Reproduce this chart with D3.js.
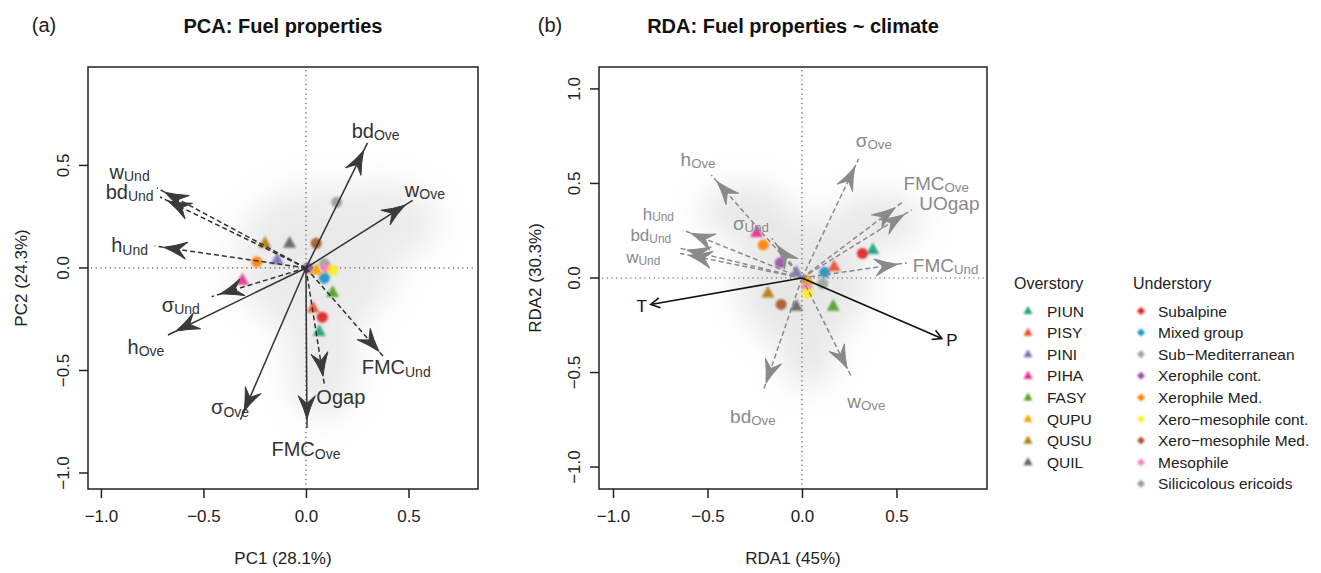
<!DOCTYPE html>
<html><head><meta charset="utf-8">
<script src="https://cdn.jsdelivr.net/npm/d3@7"></script>
<style>
body{margin:0;background:#fff;}
text{font-family:"Liberation Sans",Arial,Helvetica,sans-serif;}
</style></head>
<body><svg id="chart" width="1321" height="573"></svg>
<script>
// ---------------- DATA ----------------
const overstory = ["PIUN","PISY","PINI","PIHA","FASY","QUPU","QUSU","QUIL"];
const overColors = ["#1b9e77","#e8502a","#7f6bb8","#e7298a","#4f9e22","#f0a500","#b07a10","#5e5e66"];
const understory = ["Subalpine","Mixed group","Sub\u2212Mediterranean","Xerophile cont.","Xerophile Med.","Xero\u2212mesophile cont.","Xero\u2212mesophile Med.","Mesophile","Silicicolous ericoids"];
const underColors = ["#e41a1c","#1f8fc8","#9aa39a","#984ea3","#ff7f00","#ffee22","#a65628","#f781bf","#999999"];

const ticksA_x = [-1.0,-0.5,0.0,0.5];
const ticksA_y = [-1.0,-0.5,0.0,0.5];
const ticksB_x = [-1.0,-0.5,0.0,0.5];
const ticksB_y = [-1.0,-0.5,0.0,0.5,1.0];

// PCA loadings
const pcaVars = ["w","bd","h","\u03c3","FMC","Ogap","bd","w","h","\u03c3","FMC"];
const pcaSubs = ["Und","Und","Und","Und","Und","","Ove","Ove","Ove","Ove","Ove"];
const pcaX = [-0.727,-0.712,-0.737,-0.46,0.385,0.09,0.30,0.52,-0.673,-0.32,0.005];
const pcaY = [0.39,0.346,0.107,-0.14,-0.44,-0.57,0.61,0.33,-0.327,-0.74,-0.78];
const pcaDashed = [1,1,1,1,1,1,0,0,0,0,0];
const pcaLabX = [-0.86,-0.86,-0.86,-0.61,0.44,0.17,0.34,0.58,-0.78,-0.37,0.0];
const pcaLabY = [0.47,0.37,0.11,-0.18,-0.485,-0.63,0.67,0.38,-0.385,-0.68,-0.885];

// PCA centroids
const pcaOverGroup = ["QUSU","QUIL","PINI","PIHA","QUPU","FASY","PISY","PIUN"];
const pcaOverX = [-0.20,-0.08,-0.14,-0.31,0.05,0.13,0.035,0.065];
const pcaOverY = [0.12,0.12,0.04,-0.06,-0.01,-0.12,-0.195,-0.31];
const pcaUnderGroup = ["Xero\u2212mesophile Med.","Xerophile Med.","Sub\u2212Mediterranean","Mesophile","Xero\u2212mesophile cont.","Mixed group","Subalpine","Silicicolous ericoids","Xerophile cont."];
const pcaUnderX = [0.05,-0.24,0.09,0.10,0.13,0.09,0.08,0.15,0.01];
const pcaUnderY = [0.12,0.03,0.02,0.0,-0.01,-0.05,-0.24,0.32,0.0];

// RDA response loadings
const rdaVars = ["\u03c3","h","\u03c3","h","bd","w","FMC","UOgap","FMC","bd","w"];
const rdaSubs = ["Ove","Ove","Und","Und","Und","Und","Ove","","Und","Ove","Ove"];
const rdaX = [0.30,-0.48,-0.16,-0.63,-0.656,-0.645,0.53,0.58,0.555,-0.206,0.26];
const rdaY = [0.63,0.545,0.21,0.254,0.16,0.13,0.40,0.36,0.08,-0.60,-0.52];
const rdaLabX = [0.38,-0.55,-0.27,-0.76,-0.80,-0.84,0.71,0.78,0.76,-0.26,0.34];
const rdaLabY = [0.73,0.63,0.29,0.34,0.225,0.11,0.505,0.395,0.07,-0.73,-0.65];
// climate vectors
const climVars = ["T","P"];
const climX = [-0.80,0.74];
const climY = [-0.14,-0.32];
// RDA centroids
const rdaOverGroup = ["PIHA","PINI","PISY","PIUN","QUPU","QUSU","QUIL","FASY"];
const rdaOverX = [-0.24,-0.03,0.17,0.375,0.03,-0.18,-0.03,0.165];
const rdaOverY = [0.24,0.03,0.06,0.15,-0.01,-0.08,-0.15,-0.15];
const rdaUnderGroup = ["Xerophile Med.","Xerophile cont.","Mixed group","Subalpine","Mesophile","Xero\u2212mesophile cont.","Sub\u2212Mediterranean","Xero\u2212mesophile Med."];
const rdaUnderX = [-0.205,-0.115,0.12,0.32,0.025,0.03,0.11,-0.11];
const rdaUnderY = [0.175,0.08,0.03,0.13,-0.045,-0.08,-0.03,-0.14];

// ---------------- DRAW ----------------
const svg = d3.select("#chart");
svg.append("rect").attr("width",1321).attr("height",573).attr("fill","#fff");
const defs = svg.append("defs");
defs.append("filter").attr("id","blur").attr("x","-50%").attr("y","-50%").attr("width","200%").attr("height","200%")
  .append("feGaussianBlur").attr("stdDeviation",16);
defs.append("filter").attr("id","blur2").attr("x","-50%").attr("y","-50%").attr("width","200%").attr("height","200%")
  .append("feGaussianBlur").attr("stdDeviation",0.8);

const overColor = d3.scaleOrdinal().domain(overstory).range(overColors);
const underColor = d3.scaleOrdinal().domain(understory).range(underColors);

function dart(L, W){
  return `M0,0 Q${-0.5*L},${-0.18*W} ${-L},${-W/2} L${-0.66*L},0 L${-L},${W/2} Q${-0.5*L},${0.18*W} 0,0 Z`;
}

function panel(opt){
  const g = svg.append("g");
  const x = d3.scaleLinear().domain(opt.xd).range(opt.xr);
  const y = d3.scaleLinear().domain(opt.yd).range(opt.yr);
  const haze = g.append("g").attr("filter","url(#blur)").attr("opacity",opt.hazeOp);
  opt.haze.forEach(h=>{
    haze.append("ellipse").attr("cx",x(h[0])).attr("cy",y(h[1])).attr("rx",h[2]).attr("ry",h[3]).attr("fill","#bdbdbd");
  });
  g.append("line").attr("x1",x(0)).attr("x2",x(0)).attr("y1",opt.yr[1]+3).attr("y2",opt.yr[0]-3)
    .attr("stroke","#555").attr("stroke-width",1.2).attr("stroke-dasharray","1.2,3.5");
  g.append("line").attr("y1",y(0)).attr("y2",y(0)).attr("x1",opt.xr[0]+3).attr("x2",opt.xr[1]-3)
    .attr("stroke","#555").attr("stroke-width",1.2).attr("stroke-dasharray","1.2,3.5");
  g.append("rect").attr("x",opt.xr[0]).attr("y",opt.yr[1]).attr("width",opt.xr[1]-opt.xr[0]).attr("height",opt.yr[0]-opt.yr[1])
    .attr("fill","none").attr("stroke","#222").attr("stroke-width",1.5);
  const fmt = d=> (d<0?"\u2212":"")+Math.abs(d).toFixed(1);
  const ax = g.append("g").attr("transform",`translate(0,${opt.yr[0]})`)
    .call(d3.axisBottom(x).tickValues(opt.xt).tickFormat(fmt).tickSize(9).tickPadding(12));
  ax.select(".domain").remove();
  const ay = g.append("g").attr("transform",`translate(${opt.xr[0]},0)`)
    .call(d3.axisLeft(y).tickValues(opt.yt).tickFormat(fmt).tickSize(9).tickPadding(6));
  ay.select(".domain").remove();
  [ax,ay].forEach(a=>{a.selectAll("line").attr("stroke","#222").attr("stroke-width",1.5);
    a.selectAll("text").attr("font-size",17).attr("fill","#222").attr("font-family","Liberation Sans, Arial, sans-serif");});
  ay.selectAll("text").attr("text-anchor","middle").attr("dy",null)
    .attr("transform",function(d){return `translate(-25,${y(d)}) rotate(-90)`;}).attr("x",0).attr("y",0)
    .attr("dominant-baseline","central");
  ay.selectAll(".tick").attr("transform",null);
  ay.selectAll(".tick line").attr("transform",d=>`translate(0,${y(d)})`);
  g.append("text").attr("x",(opt.xr[0]+opt.xr[1])/2).attr("y",564).attr("text-anchor","middle")
    .attr("font-size",17).attr("fill","#222").text(opt.xlab);
  g.append("text").attr("transform",`translate(${opt.ylabX},${(opt.yr[0]+opt.yr[1])/2}) rotate(-90)`).attr("text-anchor","middle")
    .attr("font-size",17).attr("fill","#222").text(opt.ylab);
  g.append("text").attr("x",opt.titleX).attr("y",33).attr("text-anchor","middle").attr("font-size",20)
    .attr("font-weight","bold").attr("fill","#111").text(opt.title);
  g.append("text").attr("x",opt.tagX).attr("y",32).attr("text-anchor","middle").attr("font-size",20)
    .attr("fill","#222").text(opt.tag);
  return {g,x,y};
}

function arrows(P, vx, vy, dashed, col, headCol){
  const ox=P.x(0), oy=P.y(0);
  vx.forEach((v,i)=>{
    const ex=P.x(v), ey=P.y(vy[i]);
    P.g.append("line").attr("x1",ox).attr("y1",oy).attr("x2",ex).attr("y2",ey)
      .attr("stroke",col).attr("stroke-width",1.5)
      .attr("stroke-dasharray",dashed[i]?"5,3":null);
    const ang=Math.atan2(ey-oy,ex-ox)*180/Math.PI;
    const len=Math.hypot(ex-ox,ey-oy);
    const t=(len-9)/len;
    P.g.append("path").attr("d",dart(23,17))
      .attr("transform",`translate(${ox+(ex-ox)*t},${oy+(ey-oy)*t}) rotate(${ang})`)
      .attr("fill",headCol).attr("stroke",headCol).attr("stroke-width",1).attr("stroke-linejoin","round");
  });
}

function labels(P, names, subs, lx, ly, col, fs){
  names.forEach((n,i)=>{
    const f = Array.isArray(fs)?fs[i]:fs;
    const t=P.g.append("text").attr("x",P.x(lx[i])).attr("y",P.y(ly[i])).attr("text-anchor","middle")
      .attr("dominant-baseline","central").attr("font-size",f).attr("fill",col);
    t.append("tspan").text(n);
    if(subs[i]) t.append("tspan").attr("font-size",f*0.7).attr("dy",f*0.22).text(subs[i]);
  });
}

function tri(s){const h=s*0.9;return `M0,${-h*0.62} L${s/2},${h*0.38} L${-s/2},${h*0.38} Z`;}

function points(P, og, ox, oy, ug, ux, uy){
  ug.forEach((gname,i)=>{
    P.g.append("circle").attr("cx",P.x(ux[i])).attr("cy",P.y(uy[i])).attr("r",5.5)
      .attr("fill",underColor(gname)).attr("opacity",0.9).attr("filter","url(#blur2)");
  });
  og.forEach((gname,i)=>{
    P.g.append("path").attr("d",tri(13)).attr("transform",`translate(${P.x(ox[i])},${P.y(oy[i])})`)
      .attr("fill",overColor(gname)).attr("opacity",0.9).attr("filter","url(#blur2)");
  });
}

// ---- Panel (a)
const A = panel({xd:[-1.063,0.839], xr:[88,478], yd:[-1.078,0.98], yr:[489,67],
  xt:ticksA_x, yt:ticksA_y, xlab:"PC1 (28.1%)", ylab:"PC2 (24.3%)", ylabX:27,
  title:"PCA: Fuel properties", titleX:283, tag:"(a)", tagX:44,
  haze:[[0.05,0.03,80,75],[0.35,0.22,60,40],[0.08,-0.45,35,60]], hazeOp:0.3});
points(A, pcaOverGroup, pcaOverX, pcaOverY, pcaUnderGroup, pcaUnderX, pcaUnderY);
arrows(A, pcaX, pcaY, pcaDashed, "#333", "#3a3a3a");
labels(A, pcaVars, pcaSubs, pcaLabX, pcaLabY, "#333", 20);

// ---- Panel (b)
const B = panel({xd:[-1.074,0.979], xr:[599,987], yd:[-1.116,1.116], yr:[489,67],
  xt:ticksB_x, yt:ticksB_y, xlab:"RDA1 (45%)", ylab:"RDA2 (30.3%)", ylabX:541,
  title:"RDA: Fuel properties ~ climate", titleX:793, tag:"(b)", tagX:550,
  haze:[[0.0,-0.02,65,65],[0.03,-0.4,28,35],[-0.3,0.35,45,28],[0.4,0.3,45,28]], hazeOp:0.35});
points(B, rdaOverGroup, rdaOverX, rdaOverY, rdaUnderGroup, rdaUnderX, rdaUnderY);
arrows(B, rdaX, rdaY, rdaX.map(()=>1), "#8a8a8a", "#8a8a8a");
labels(B, rdaVars, rdaSubs, rdaLabX, rdaLabY, "#8a8a8a", [19,19,19,17,17,17,19,19,19,19,19]);
climX.forEach((v,i)=>{
  const ox=B.x(0), oy=B.y(0), ex=B.x(v), ey=B.y(climY[i]);
  B.g.append("line").attr("x1",ox).attr("y1",oy).attr("x2",ex).attr("y2",ey).attr("stroke","#111").attr("stroke-width",1.6);
  const a=Math.atan2(ey-oy,ex-ox)*180/Math.PI;
  B.g.append("path").attr("d","M-9,-5 L0,0 L-9,5").attr("fill","none").attr("stroke","#111").attr("stroke-width",1.6)
    .attr("transform",`translate(${ex},${ey}) rotate(${a})`);
  B.g.append("text").attr("x",ex+(i===0?-9:10)).attr("y",ey+2).attr("text-anchor","middle").attr("dominant-baseline","central")
    .attr("font-size",17).attr("fill","#111").text(climVars[i]);
});

// ---- Legend
const leg = svg.append("g");
leg.append("text").attr("x",1014).attr("y",289).attr("font-size",16).attr("fill","#222").text("Overstory");
leg.append("text").attr("x",1133).attr("y",289).attr("font-size",16).attr("fill","#222").text("Understory");
const rowY = d3.scaleLinear().domain([0,1]).range([311,332.6]);
overstory.forEach((n,i)=>{
  leg.append("path").attr("d",tri(9)).attr("transform",`translate(1028,${rowY(i)})`).attr("fill",overColor(n)).attr("filter","url(#blur2)");
  leg.append("text").attr("x",1047).attr("y",rowY(i)).attr("dominant-baseline","central").attr("font-size",15.5).attr("fill","#222").text(n);
});
understory.forEach((n,i)=>{
  leg.append("path").attr("d","M0,-4 L4,0 L0,4 L-4,0 Z").attr("transform",`translate(1141,${rowY(i)})`).attr("fill",underColor(n)).attr("filter","url(#blur2)");
  leg.append("text").attr("x",1158).attr("y",rowY(i)).attr("dominant-baseline","central").attr("font-size",15.5).attr("fill","#222").text(n);
});
</script></body></html>
